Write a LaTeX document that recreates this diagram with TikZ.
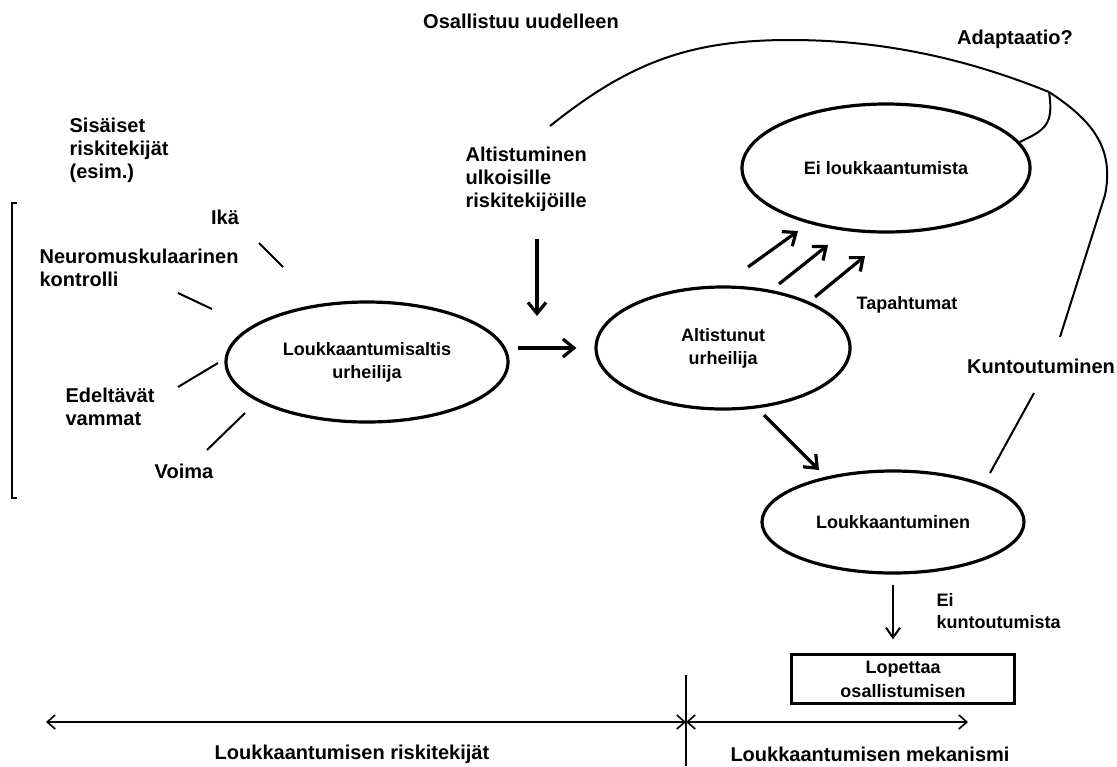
\documentclass[tikz,border=0pt]{standalone}
\usepackage{fontspec}
\setmainfont{Liberation Sans}
\usetikzlibrary{arrows.meta,shapes}

\begin{document}
\begin{tikzpicture}[x=0.5pt,y=-0.5pt,>={Straight Barb[length=5.5pt,width=9pt]},
		line width=1.6pt,
		tila/.style={ellipse,draw,line width=1.6pt,inner sep=0pt,align=center,
			font=\fontsize{9}{11.5}\selectfont\bfseries},
		teksti/.style={align=left,inner sep=0pt,font=\fontsize{10}{11.5}\selectfont\bfseries},
		pieni/.style={align=left,inner sep=0pt,font=\fontsize{9}{11}\selectfont\bfseries},
		ohut/.style={line width=1pt},
		janat/.style={line width=0.8pt,{Straight Barb[length=4pt,width=7pt]}-{Straight Barb[length=4pt,width=7pt]}}]

		\useasboundingbox (0,0) rectangle (1117,766);

		\node[tila,minimum width=141pt,minimum height=60pt] (risk) at (367,362) {Loukkaantumisaltis\\urheilija};
		\node[tila,minimum width=127pt,minimum height=61pt] (altist) at (723,348) {Altistunut\\urheilija};
		\node[tila,minimum width=144pt,minimum height=64pt] (eilouk) at (886,168) {Ei loukkaantumista};
		\node[tila,minimum width=131pt,minimum height=51pt] (louk) at (893,522) {Loukkaantuminen};
		\node[draw,line width=1.1pt,align=center,inner sep=0pt,minimum width=111.5pt,minimum height=24.5pt,
			font=\fontsize{9}{12}\selectfont\bfseries] (lopettaa) at (903,679) {Lopettaa\\osallistumisen};

		\node[teksti] (osallistuu) at (521,21) {Osallistuu uudelleen};
		\node[teksti] (adaptaatio) at (1015,39) {Adaptaatio?};
		\node[teksti,anchor=west] (sisaiset) at (68,150) {Sisäiset\\riskitekijät\\(esim.)};
		\node[teksti] (ika) at (225,217) {Ikä};
		\node[teksti,anchor=west] (neuro) at (38,268) {Neuromuskulaarinen\\kontrolli};
		\node[teksti,anchor=west] (edeltavat) at (64,407) {Edeltävät\\vammat};
		\node[teksti] (voima) at (184,471) {Voima};
		\node[teksti,anchor=west] (altistuminen) at (464,179) {Altistuminen\\ulkoisille\\riskitekijöille};
		\node[pieni] (tapahtumat) at (907,305) {Tapahtumat};
		\node[teksti] (kuntoutuminen) at (1041,366) {Kuntoutuminen};
		\node[pieni,anchor=west] (eikunto) at (935,611) {Ei\\kuntoutumista};
		\node[teksti] (riskitekijat) at (352,754) {Loukkaantumisen riskitekijät};
		\node[teksti] (mekanismi) at (870,754) {Loukkaantumisen mekanismi};

		\coordinate (paluu) at (550,126);
		\coordinate (haara) at (1049,92);
		\coordinate (kunto-paa) at (1060,337);
		\coordinate (kunto-yla) at (1034,393);
		\coordinate (kunto-ala) at (990,473);
		\coordinate (altistus-alku) at (537,239);
		\coordinate (altistus) at (537,316);
		\coordinate (vamma-alku) at (764,415);
		\coordinate (vamma) at (819,470);
		\coordinate (vasen) at (46,722);
		\coordinate (raja) at (686,722);
		\coordinate (oikea) at (968,722);
		\coordinate (raja-yla) at (686,675);
		\coordinate (raja-ala) at (686,766);

		\foreach \n/\x/\y/\u/\v in {ika/259/243/283/267, neuro/178/293/212/309,
			edeltavat/218/363/178/387, voima/245/413/207/450}
		{
			\coordinate (\n-a) at (\x,\y);
			\coordinate (\n-b) at (\u,\v);
			\draw[ohut] (\n-a) -- (\n-b);
		}

		\foreach \i/\x/\y/\u/\v in {1/748/267/798/231, 2/779/284/828/245, 3/815/297/865/256}
		{
			\coordinate (tapahtuma\i) at (\x,\y);
			\coordinate (kohde\i) at (\u,\v);
			\draw[->] (tapahtuma\i) -- (kohde\i);
		}

		\draw[->,shorten <=4pt,shorten >=9pt] (risk.east |- altist.west) -- (altist.west);
		\draw[->] (altistus-alku) -- (altistus);
		\draw[->] (vamma-alku) -- (vamma);
		\draw[ohut,->,>={Straight Barb[length=5pt,width=7pt]},shorten <=5pt,shorten >=7pt]
			(louk.south) -- ([xshift=-5pt]lopettaa.north);

		\draw[ohut] (paluu) .. controls (630,62) and (690,40) .. (790,40)
			.. controls (890,40) and (975,62) .. (haara);
		\draw[ohut] (haara) .. controls (1054,125) and (1045,130) .. (eilouk.11);
		\draw[ohut] (haara) .. controls (1095,122) and (1114,150) .. (1105,195) -- (kunto-paa);
		\draw[ohut] (kunto-ala) -- (kunto-yla);

		\draw[line width=0.9pt] (17,203) -- (12,203) -- (12,498) -- (17,498);

		\draw[janat] (vasen) -- (raja);
		\draw[janat] (raja) -- (oikea);
		\draw[line width=1.1pt] (raja-yla) -- (raja-ala);
	\end{tikzpicture}
\end{document}
